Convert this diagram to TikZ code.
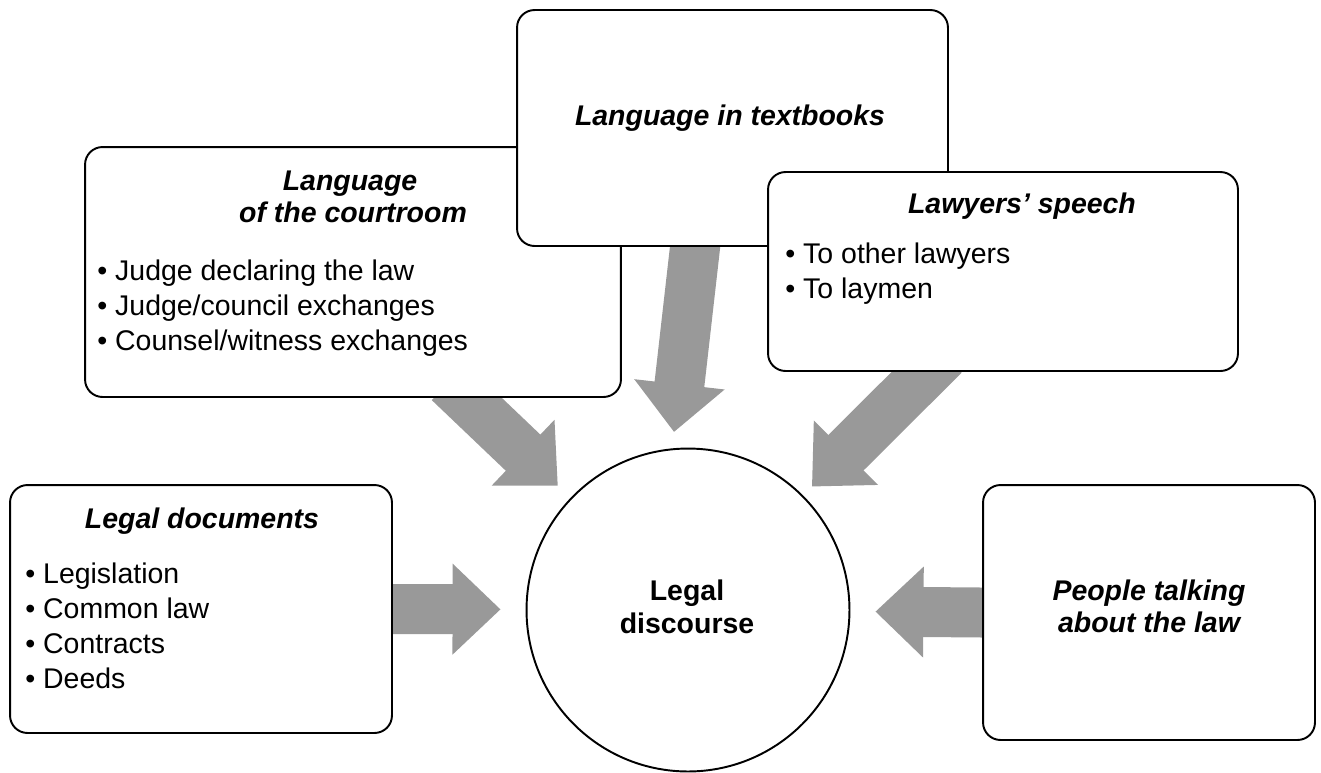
\documentclass[tikz,border=0pt]{standalone}
\usepackage{fontspec}
\setmainfont{Liberation Sans}
\usetikzlibrary{arrows.meta,backgrounds}

\begin{document}
\begin{tikzpicture}[x=0.02cm, y=-0.02cm,
    card/.style={draw, fill=white, rounded corners=0.35cm, line width=1.1pt, inner sep=0pt},
    hub/.style={draw, fill=white, circle, line width=1.1pt, inner sep=0pt, minimum size=6.46cm},
    title/.style={font=\fontsize{16.2}{20}\selectfont\bfseries\itshape, inner sep=0pt, anchor=base},
    hubtext/.style={font=\fontsize{16.2}{20}\selectfont\bfseries, inner sep=0pt, anchor=base},
    item/.style={font=\fontsize{16.2}{20}\selectfont, inner sep=0pt, anchor=base west},
    flow/.style={draw=black!40, line width=1cm, -{Triangle[length=0.96cm, width=1.76cm]}}]
    \useasboundingbox (0,0) rectangle (1321,772);

    % Boxes (back to front)
    \node[card, minimum width=10.72cm, minimum height=5cm] (court) at (353,272) {};
    \node[card, minimum width=8.62cm, minimum height=4.72cm] (books) at (732.5,128) {};
    \node[card, minimum width=9.4cm, minimum height=3.98cm] (lawyers) at (1003,271.5) {};
    \node[card, minimum width=7.64cm, minimum height=4.96cm] (docs) at (201,609) {};
    \node[card, minimum width=6.64cm, minimum height=5.1cm] (people) at (1149,612.5) {};

    % Centre
    \node[hub] (disc) at (688,610) {};
    \node[hubtext] (discT1) at (687,600) {Legal};
    \node[hubtext] (discT2) at (687,633) {discourse};

    % Language of the courtroom
    \node[title] (courtT1) at (350,190) {Language};
    \node[title] (courtT2) at (353,222) {of the courtroom};
    \node[item] (court1) at (97,280) {\textbullet\ Judge declaring the law};
    \node[item] (court2) at (97,315) {\textbullet\ Judge/council exchanges};
    \node[item] (court3) at (97,350) {\textbullet\ Counsel/witness exchanges};

    % Language in textbooks
    \node[title] (booksT) at (730,125) {Language in textbooks};

    % Lawyers' speech
    \node[title] (lawyersT) at (1022,213) {Lawyers’ speech};
    \node[item] (lawyers1) at (785,263) {\textbullet\ To other lawyers};
    \node[item] (lawyers2) at (785,298) {\textbullet\ To laymen};

    % Legal documents
    \node[title] (docsT) at (202,528) {Legal documents};
    \node[item] (docs1) at (25,583) {\textbullet\ Legislation};
    \node[item] (docs2) at (25,618) {\textbullet\ Common law};
    \node[item] (docs3) at (25,653) {\textbullet\ Contracts};
    \node[item] (docs4) at (25,688) {\textbullet\ Deeds};

    % People talking about the law
    \node[title] (peopleT1) at (1149,600) {People talking};
    \node[title] (peopleT2) at (1149,632) {about the law};

    % Arrow ends hidden under the boxes
    \coordinate (courtOut) at (449,382);
    \coordinate (booksOut) at (697,230);
    \coordinate (booksTip) at (674,432);
    \coordinate (lawyersOut) at (944,355);

    % Grey block arrows
    \begin{scope}[on background layer]
        \draw[flow, shorten >=0.5cm] (docs.east) -- (disc);
        \draw[flow, shorten >=0.5cm] (people.west) -- (disc);
        \draw[flow, shorten >=0.35cm] (courtOut) -- (disc);
        \draw[flow] (booksOut) -- (booksTip);
        \draw[flow, shorten >=0.25cm] (lawyersOut) -- (disc);
    \end{scope}
\end{tikzpicture}
\end{document}
